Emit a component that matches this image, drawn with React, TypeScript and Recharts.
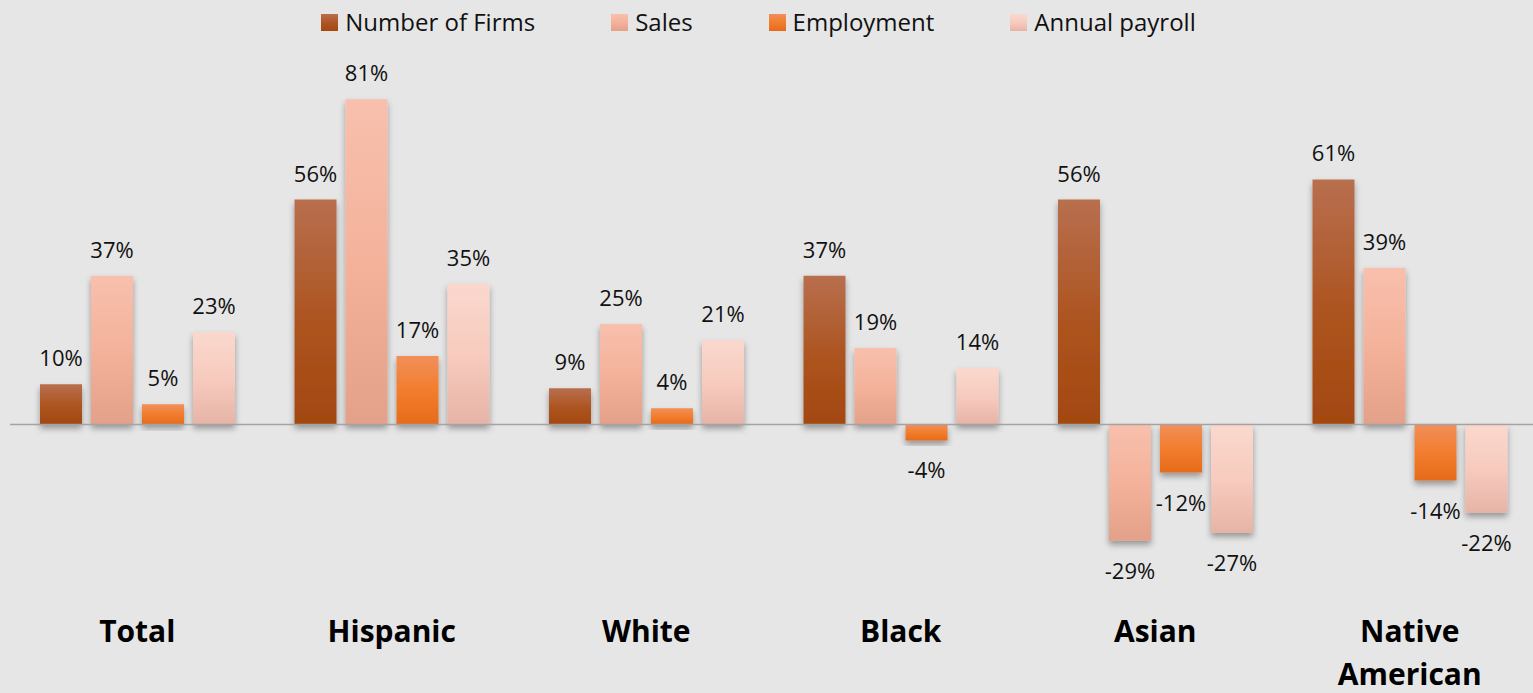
import React from 'react';
import { BarChart, Bar, XAxis, YAxis, ReferenceLine, Legend, LabelList } from 'recharts';

const categories = ['Total', 'Hispanic', 'White', 'Black', 'Asian', 'Native American'];
const firms = [10, 56, 9, 37, 56, 61];
const sales = [37, 81, 25, 19, -29, 39];
const employment = [5, 17, 4, -4, -12, -14];
const payroll = [23, 35, 21, 14, -27, -22];

const seriesNames = ['Number of Firms', 'Sales', 'Employment', 'Annual payroll'];
const seriesKeys = ['firms', 'sales', 'employment', 'payroll'];

const data = categories.map((c, i) => ({
  name: c,
  firms: firms[i],
  sales: sales[i],
  employment: employment[i],
  payroll: payroll[i],
}));

const FONT = '"Open Sans", "Noto Sans", sans-serif';

const gradients: Record<string, { stops: [string, string][] }> = {
  firms: { stops: [['0%', '#b86f4e'], ['55%', '#ad5420'], ['100%', '#a34810']] },
  sales: { stops: [['0%', '#f8c0ad'], ['50%', '#f4b29b'], ['100%', '#e4a18a']] },
  employment: { stops: [['0%', '#f18f5a'], ['50%', '#f27d2e'], ['100%', '#e66b1a']] },
  payroll: { stops: [['0%', '#fad8ce'], ['50%', '#f7cbbe'], ['100%', '#e6b4a6']] },
};

const cssGradient = (key: string) =>
  `linear-gradient(to bottom, ${gradients[key].stops.map(([o, c]) => `${c} ${o}`).join(', ')})`;

const ValueLabel = (props: any) => {
  const { x, y, width, height, value } = props;
  if (value === undefined || value === null) return null;
  const top = Math.min(y, y + height);
  const bottom = Math.max(y, y + height);
  const cx = x + width / 2;
  const ty = value >= 0 ? top - 18 : bottom + 38;
  return (
    <text x={cx} y={ty} textAnchor="middle" fontFamily={FONT} fontSize={22} fill="#111">
      {`${value}%`}
    </text>
  );
};

const CatTick = (props: any) => {
  const { x, y, payload } = props;
  const words = String(payload.value).split(' ');
  return (
    <text x={x} y={y} textAnchor="middle" fontFamily={FONT} fontWeight={700} fontSize={30} fill="#000">
      {words.map((w, i) => (
        <tspan key={i} x={x} dy={i === 0 ? 49 : 43}>
          {w}
        </tspan>
      ))}
    </text>
  );
};

const LegendContent = () => (
  <div
    style={{
      height: 44,
      display: 'flex',
      alignItems: 'center',
      justifyContent: 'center',
      fontFamily: FONT,
      fontSize: 24,
      color: '#111',
    }}
  >
    {seriesNames.map((n, i) => (
      <div
        key={n}
        style={{ display: 'flex', alignItems: 'center', marginRight: i < seriesNames.length - 1 ? 76 : 0 }}
      >
        <div style={{ width: 17, height: 17, background: cssGradient(seriesKeys[i]), marginRight: 7 }} />
        <span style={{ lineHeight: '44px', whiteSpace: 'nowrap' }}>{n}</span>
      </div>
    ))}
  </div>
);

export default function App() {
  return (
    <div
      style={{
        position: 'absolute',
        top: 0,
        left: 0,
        width: 1533,
        height: 693,
        overflow: 'hidden',
        background: '#e6e6e6',
      }}
    >
      <BarChart
        width={1537}
        height={693}
        data={data}
        margin={{ top: 19, right: 0, bottom: 0, left: 10 }}
        barSize={42}
        barGap={9}
        barCategoryGap={29.75}
      >
        <defs>
          {seriesKeys.map((k) => (
            <linearGradient key={k} id={`grad-${k}`} x1="0" y1="0" x2="0" y2="1">
              {gradients[k].stops.map(([o, c]) => (
                <stop key={o} offset={o} stopColor={c} />
              ))}
            </linearGradient>
          ))}
          <filter id="barShadow" x="-30%" y="-30%" width="160%" height="160%">
            <feDropShadow dx="0" dy="4" stdDeviation="3" floodColor="#000" floodOpacity="0.35" />
          </filter>
        </defs>
        <Legend
          verticalAlign="top"
          align="center"
          content={<LegendContent />}
          wrapperStyle={{ top: 0, left: 0, width: 1517, height: 44 }}
        />
        <XAxis
          dataKey="name"
          axisLine={false}
          tickLine={false}
          height={108}
          interval={0}
          tick={<CatTick />}
        />
        <YAxis hide domain={[-40, 90]} />
        <ReferenceLine y={0} stroke="#a3a3a3" strokeWidth={1.5} />
        {seriesKeys.map((k, i) => (
          <Bar
            key={k}
            dataKey={k}
            name={seriesNames[i]}
            fill={`url(#grad-${k})`}
            filter="url(#barShadow)"
            isAnimationActive={false}
          >
            <LabelList dataKey={k} content={<ValueLabel />} />
          </Bar>
        ))}
      </BarChart>
    </div>
  );
}
